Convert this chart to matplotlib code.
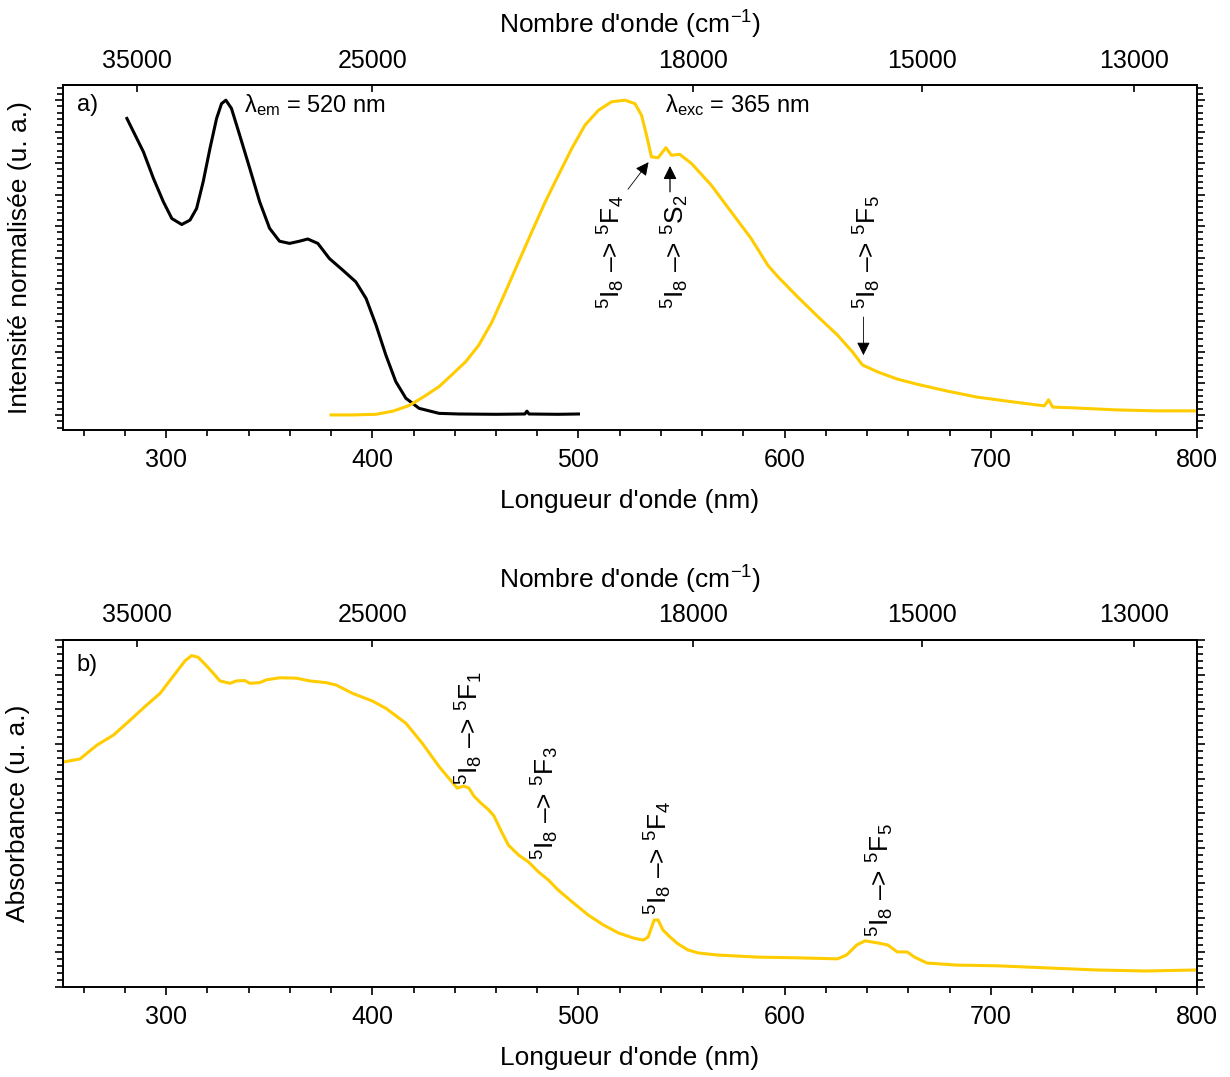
import numpy as np
import matplotlib
matplotlib.use("Agg")
import matplotlib.pyplot as plt
from matplotlib.ticker import MultipleLocator

plt.rcParams['font.family'] = ['Liberation Sans', 'DejaVu Sans']
plt.rcParams['mathtext.fontset'] = 'custom'
plt.rcParams['mathtext.rm'] = 'Liberation Sans'
plt.rcParams['mathtext.it'] = 'Liberation Sans:italic'

# excitation spectrum (black), lambda_em = 520 nm
exc_wl = [281, 289, 293.9, 298.7, 302.8, 307.6, 311.6, 314.8, 318, 321.3, 324.5, 326.9, 329,
          331.7, 335.7, 340.6, 345.4, 350.2, 355, 359.9, 364.7, 368.7, 373.6, 379.2, 385.7,
          392, 397, 401.8, 406.6, 411.4, 416.3, 422.7, 432.4, 442, 460, 474, 475, 476, 490, 500]
exc_int = [0.942, 0.836, 0.751, 0.677, 0.624, 0.605, 0.619, 0.656, 0.741, 0.847, 0.942, 0.989, 1.0,
           0.974, 0.889, 0.783, 0.677, 0.593, 0.552, 0.545, 0.552, 0.559, 0.545, 0.497, 0.46,
           0.423, 0.37, 0.286, 0.19, 0.106, 0.053, 0.021, 0.005, 0.003, 0.002, 0.003, 0.012, 0.003, 0.002, 0.003]

# emission spectrum (yellow), lambda_exc = 365 nm
em_wl = [380, 390, 401.8, 410, 417.9, 425, 432.4, 439, 445.3, 451.7, 458.1, 464.6, 471, 477.4,
         483.9, 490.3, 496.8, 503.2, 509.7, 516.1, 522.6, 527.4, 530.6, 533, 535.4, 538.6,
         542.4, 545.1, 549.1, 554.8, 564.4, 574.1, 583.7, 591.8, 596.6, 606.3, 616, 625.6,
         632.9, 637.7, 645, 654.6, 664, 678.7, 693, 707.7, 722, 726, 728, 730, 741.6, 761, 780, 800]
em_int = [0.0, 0.0, 0.002, 0.012, 0.03, 0.058, 0.09, 0.13, 0.169, 0.222, 0.296, 0.391, 0.487, 0.582,
          0.677, 0.762, 0.847, 0.921, 0.968, 0.995, 1.0, 0.989, 0.952, 0.889, 0.82, 0.817,
          0.849, 0.825, 0.828, 0.799, 0.73, 0.645, 0.561, 0.476, 0.44, 0.375, 0.313, 0.254,
          0.2, 0.159, 0.137, 0.114, 0.098, 0.076, 0.057, 0.044, 0.032, 0.029, 0.048, 0.025, 0.022, 0.016, 0.013, 0.013]

# absorbance spectrum
abs_wl = [250, 258.2, 266.5, 274.5, 282.6, 290.7, 297.1, 305.2, 309.2, 312.4, 315.6, 319.7, 322.9,
          326.1, 331, 334.2, 338.2, 340.6, 345.4, 348.6, 355.1, 363.1, 369.6, 377.6, 382.5, 390.5,
          400.1, 406.6, 416.3, 424.3, 432.4, 441.2, 444.4, 446.9, 449.3, 452.7, 456.5,
          459, 462.3, 466, 471, 475.8, 480.7, 485.5, 490, 497.6, 504.8, 512, 519.3, 526.6,
          531.4, 533.8, 536.7, 538.6, 541, 544.4, 548.3, 553, 558, 567.6, 587, 606, 625.6,
          630, 635, 639, 645, 650, 654.6, 659.4, 663, 669, 683.6, 703, 727, 751, 775, 800]
abs_val = [0.648, 0.657, 0.697, 0.726, 0.769, 0.813, 0.846, 0.909, 0.94, 0.955, 0.95, 0.925, 0.904,
           0.882, 0.875, 0.882, 0.883, 0.875, 0.877, 0.885, 0.891, 0.890, 0.882, 0.877, 0.870, 0.846,
           0.824, 0.803, 0.760, 0.702, 0.635, 0.573, 0.579, 0.573, 0.550, 0.530, 0.510,
           0.493, 0.452, 0.409, 0.380, 0.360, 0.331, 0.308, 0.280, 0.242, 0.207, 0.179, 0.156, 0.141,
           0.135, 0.144, 0.193, 0.193, 0.164, 0.144, 0.124, 0.107, 0.098, 0.092, 0.086, 0.084, 0.081,
           0.092, 0.121, 0.133, 0.127, 0.121, 0.101, 0.101, 0.086, 0.069, 0.063, 0.061, 0.055, 0.049, 0.046, 0.049]

wn_ticks = [35000, 25000, 18000, 15000, 13000]
yellow = '#FFCC00'
fs = 18
fs_lab = 19
fs_ann = 17
fs_tr = 19

fig = plt.figure(figsize=(12.3, 10.77), dpi=100)
ax1 = fig.add_axes([0.0512, 0.6007, 0.922, 0.3203])
ax2 = fig.add_axes([0.0512, 0.0836, 0.922, 0.3222])


def style(ax, ylim):
    ax.set_xlim(250, 800)
    ax.set_ylim(*ylim)
    ax.xaxis.set_major_locator(MultipleLocator(100))
    ax.xaxis.set_minor_locator(MultipleLocator(20))
    ax.yaxis.set_major_locator(MultipleLocator(0.1))
    ax.yaxis.set_minor_locator(MultipleLocator(0.02))
    ax.tick_params(axis='x', which='both', direction='out', top=False, labelsize=fs, pad=7)
    ax.tick_params(axis='y', which='both', direction='out', left=True, right=True,
                   labelleft=False, labelright=False)
    ax.tick_params(which='major', length=6, width=1.2)
    ax.tick_params(which='minor', length=4, width=1.2)
    for s in ax.spines.values():
        s.set_linewidth(1.4)
    ax.set_xlabel("Longueur d'onde (nm)", fontsize=fs_lab, labelpad=12)
    sec = ax.secondary_xaxis('top', functions=(lambda x: 1e7 / x, lambda x: 1e7 / x))
    sec.set_xticks(wn_ticks)
    sec.set_xticklabels([str(t) for t in wn_ticks])
    sec.xaxis.set_minor_locator(plt.NullLocator())
    sec.tick_params(direction='in', length=5, width=1.2, labelsize=fs, pad=9)
    sec.spines['top'].set_linewidth(1.4)
    sec.set_xlabel("Nombre d'onde (cm$^{-1}$)", fontsize=fs_lab, labelpad=11)
    return sec


style(ax1, (-0.048, 1.048))
style(ax2, (0, 1))

# panel a
ax1.plot(exc_wl, exc_int, color='black', lw=2.2)
ax1.plot(em_wl, em_int, color=yellow, lw=2.2)
ax1.set_ylabel('Intensité normalisée (u. a.)', fontsize=fs_lab)
ax1.yaxis.set_label_coords(-0.027, 0.5)
ax1.text(0.012, 0.942, 'a)', transform=ax1.transAxes, fontsize=fs_ann, va='center')
ax1.text(338, 0.984, 'λ$_{\\mathrm{em}}$ = 520 nm', fontsize=fs_ann, va='center')
ax1.text(542, 0.984, 'λ$_{\\mathrm{exc}}$ = 365 nm', fontsize=fs_ann, va='center')

lab = '$^{5}$I$_{8}$ –> $^{5}$'
ax1.text(516, 0.335, lab + 'F$_{4}$', rotation=90, ha='center', va='bottom', fontsize=fs_tr)
ax1.text(546.9, 0.335, lab + 'S$_{2}$', rotation=90, ha='center', va='bottom', fontsize=fs_tr)
ax1.text(640, 0.335, lab + 'F$_{5}$', rotation=90, ha='center', va='bottom', fontsize=fs_tr)
ax1.annotate('', xy=(534.8, 0.81), xytext=(523.2, 0.71),
             arrowprops=dict(arrowstyle='-|>', color='black', lw=0.6, mutation_scale=20))
ax1.annotate('', xy=(544.4, 0.80), xytext=(544.4, 0.70),
             arrowprops=dict(arrowstyle='-|>', color='black', lw=0.9, mutation_scale=20))
ax1.annotate('', xy=(638.2, 0.181), xytext=(638.2, 0.32),
             arrowprops=dict(arrowstyle='-|>', color='black', lw=0.6, mutation_scale=20))

# panel b
ax2.plot(abs_wl, abs_val, color=yellow, lw=2.2)
ax2.set_ylabel('Absorbance (u. a.)', fontsize=fs_lab)
ax2.yaxis.set_label_coords(-0.029, 0.5)
ax2.text(0.012, 0.928, 'b)', transform=ax2.transAxes, fontsize=fs_ann, va='center')
ax2.text(446.9, 0.582, lab + 'F$_{1}$', rotation=90, ha='center', va='bottom', fontsize=fs_tr)
ax2.text(484, 0.366, lab + 'F$_{3}$', rotation=90, ha='center', va='bottom', fontsize=fs_tr)
ax2.text(538.6, 0.207, lab + 'F$_{4}$', rotation=90, ha='center', va='bottom', fontsize=fs_tr)
ax2.text(646.4, 0.144, lab + 'F$_{5}$', rotation=90, ha='center', va='bottom', fontsize=fs_tr)

fig.savefig('out.png', dpi=100)
